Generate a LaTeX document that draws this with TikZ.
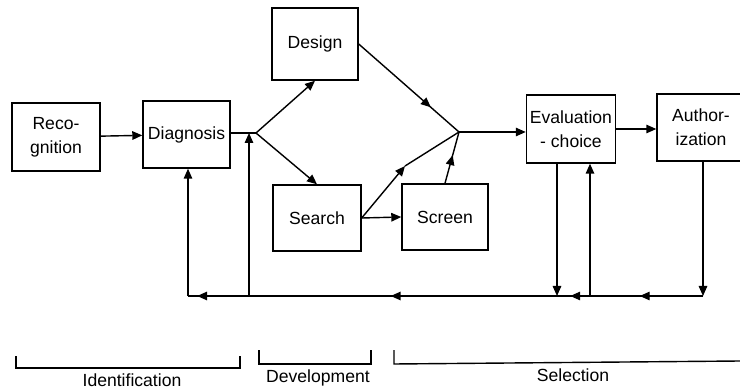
\documentclass[tikz,border=0pt]{standalone}
\usepackage{fontspec}
\setmainfont{Liberation Sans}
\usetikzlibrary{arrows.meta,positioning,decorations.markings}

\begin{document}
\begin{tikzpicture}[
      every node/.style={font=\fontsize{10}{13.5}\selectfont},
      line width=0.8pt,
      arr/.style={-{Triangle[length=2mm,width=1.7mm]}},
      midarr/.style={postaction={decorate},
                     decoration={markings,
                       mark=at position #1 with {\arrow{Triangle[length=2mm,width=1.7mm]}}}},
      stage/.style={draw, align=center, inner sep=2pt}
  ]
    \useasboundingbox (0,0) rectangle (14.8,7.76);

    % ---- Stages ----
    \node[stage, minimum width=1.76cm, minimum height=1.36cm] (reco)   at (1.12, 5.02) {Reco-\\gnition};
    \node[stage, minimum width=1.74cm, minimum height=1.34cm] (diag)   at (3.73, 5.07) {Diagnosis};
    \node[stage, minimum width=1.72cm, minimum height=1.44cm] (design) at (6.30, 6.88) {Design};
    \node[stage, minimum width=1.76cm, minimum height=1.32cm] (search) at (6.34, 3.40) {Search};
    \node[stage, minimum width=1.72cm, minimum height=1.32cm] (screen) at (8.90, 3.42) {Screen};
    \node[stage, minimum width=1.76cm, minimum height=1.36cm] (eval)   at (11.42, 5.18) {Evaluation\\- choice};
    \node[stage, minimum width=1.76cm, minimum height=1.34cm] (auth)   at (14.02, 5.21) {Author-\\ization};

    % ---- Branch points ----
    \coordinate (jL) at (5.12, 5.10);
    \coordinate (jR) at (9.18, 5.12);
    \coordinate (bend) at (8.10, 4.44);

    % ---- Forward flow ----
    \draw[arr] (reco) -- (diag);
    \draw (diag.east |- jL) -- (jL);
    \draw[arr] (jL) -- (design.south);
    \draw[arr] (jL) -- (search.north);
    \draw[midarr=0.72] (design.east) -- (jR);
    \draw[arr] (search.east) -- (bend);
    \draw (bend) -- (jR);
    \draw[midarr=0.55] (screen.north) -- (jR);
    \draw[arr] (search.east) -- (screen.west);
    \draw[arr] (jR) -- (jR -| eval.west);
    \draw[arr] (eval.east) -- (eval.east -| auth.west);

    % ---- Feedback loop ----
    \coordinate (fAuth) at (14.06, 1.84);
    \coordinate (fUp)   at (11.80, 1.84);
    \coordinate (fDown) at (11.14, 1.84);
    \coordinate (fJ)    at (4.98, 1.84);
    \coordinate (fLeft) at (3.76, 1.84);

    \draw[arr] (auth.south -| fAuth) -- (fAuth);
    \draw[midarr=0.56] (fAuth) -- (fUp);
    \draw[arr] (fUp) -- (eval.south -| fUp);
    \draw[midarr=0.6] (fUp) -- (fDown);
    \draw[arr] (eval.south -| fDown) -- (fDown);
    \draw[midarr=0.54] (fDown) -- (fJ);
    \draw[arr] (fJ) -- (fJ |- jL);
    \draw[midarr=0.85] (fJ) -- (fLeft);
    \draw[arr] (fLeft) -- (diag.south -| fLeft);

    % ---- Phase brackets ----
    \draw (0.32, 0.64) -- (0.32, 0.40) -- (4.80, 0.40) -- (4.80, 0.64);
    \draw (5.18, 0.76) -- (5.18, 0.48) -- (7.42, 0.48) -- (7.42, 0.76);
    \draw (7.88, 0.76) -- (7.88, 0.48) -- (14.8, 0.54);
    \node (ident) at (2.64, 0.16) {Identification};
    \node (devel) at (6.36, 0.20) {Development};
    \node (selec) at (11.46, 0.26) {Selection};

\end{tikzpicture}
\end{document}
